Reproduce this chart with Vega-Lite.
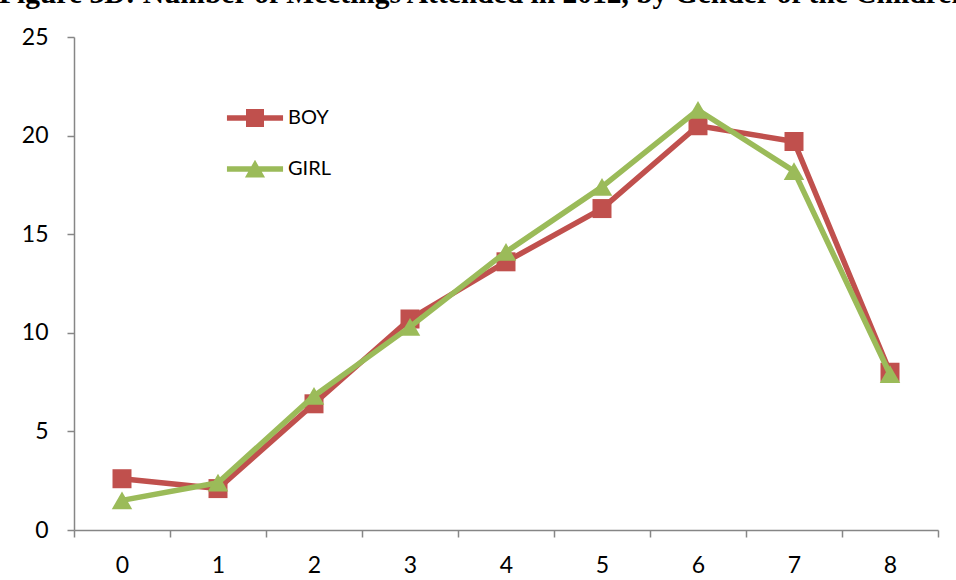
{
  "$schema": "https://vega.github.io/schema/vega-lite/v6.json",
  "width": 864,
  "height": 493,
  "autosize": "none",
  "padding": {"left": 74, "top": 37, "right": 18, "bottom": 50},
  "background": "white",
  "config": {"view": {"stroke": null}, "font": "Lato"},
  "title": {
    "text": "Figure 3D: Number of Meetings Attended in 2012, by Gender of the Children",
    "font": "Liberation Serif",
    "fontSize": 29.5,
    "fontWeight": "bold",
    "color": "black",
    "anchor": "start",
    "frame": "group",
    "offset": 17,
    "dx": -75
  },
  "data": {
    "values": [
      {"meetings": 0, "gender": "BOY", "value": 2.6},
      {"meetings": 1, "gender": "BOY", "value": 2.1},
      {"meetings": 2, "gender": "BOY", "value": 6.4},
      {"meetings": 3, "gender": "BOY", "value": 10.7},
      {"meetings": 4, "gender": "BOY", "value": 13.6},
      {"meetings": 5, "gender": "BOY", "value": 16.3},
      {"meetings": 6, "gender": "BOY", "value": 20.5},
      {"meetings": 7, "gender": "BOY", "value": 19.7},
      {"meetings": 8, "gender": "BOY", "value": 8.0},
      {"meetings": 0, "gender": "GIRL", "value": 1.5},
      {"meetings": 1, "gender": "GIRL", "value": 2.4},
      {"meetings": 2, "gender": "GIRL", "value": 6.8},
      {"meetings": 3, "gender": "GIRL", "value": 10.3},
      {"meetings": 4, "gender": "GIRL", "value": 14.1},
      {"meetings": 5, "gender": "GIRL", "value": 17.4},
      {"meetings": 6, "gender": "GIRL", "value": 21.3},
      {"meetings": 7, "gender": "GIRL", "value": 18.2},
      {"meetings": 8, "gender": "GIRL", "value": 7.9}
    ]
  },
  "encoding": {
    "x": {
      "field": "meetings",
      "type": "ordinal",
      "scale": {"type": "band", "paddingInner": 0, "paddingOuter": 0},
      "axis": {
        "title": null,
        "labelAngle": 0,
        "tickBand": "extent",
        "tickSize": 7,
        "tickColor": "#868686",
        "domainColor": "#868686",
        "domainWidth": 1.5,
        "tickWidth": 1.5,
        "labelPadding": 17,
        "labelFontSize": 23,
        "labelColor": "black",
        "labelFont": "Lato",
        "grid": false
      }
    },
    "y": {
      "field": "value",
      "type": "quantitative",
      "scale": {"domain": [0, 25]},
      "axis": {
        "title": null,
        "values": [0, 5, 10, 15, 20, 25],
        "tickSize": 7,
        "tickColor": "#868686",
        "domainColor": "#868686",
        "domainWidth": 1.5,
        "tickWidth": 1.5,
        "labelPadding": 19,
        "labelFontSize": 23,
        "labelColor": "black",
        "labelFont": "Lato",
        "grid": false
      }
    },
    "color": {
      "field": "gender",
      "type": "nominal",
      "scale": {"domain": ["BOY", "GIRL"], "range": ["#C0504D", "#9BBB59"]},
      "legend": {
        "title": null,
        "orient": "none",
        "legendX": 166,
        "legendY": 66,
        "padding": 0,
        "symbolSize": 900,
        "rowPadding": 26,
        "labelOffset": 18,
        "labelFontSize": 20,
        "labelFont": "Lato",
        "labelColor": "black",
        "encode": {
          "symbols": {
            "update": {
              "shape": {"signal": "datum.value === 'BOY' ? 'M-1.87,-0.18L1.87,-0.18L1.87,0.18L-1.87,0.18Z M-0.6,-0.6L0.6,-0.6L0.6,0.6L-0.6,0.6Z' : 'M-1.87,-0.18L1.87,-0.18L1.87,0.18L-1.87,0.18Z M0,-0.62L0.67,0.56L-0.67,0.56Z'"},
              "fill": {"signal": "datum.value === 'BOY' ? '#C0504D' : '#9BBB59'"},
              "stroke": {"value": "transparent"},
              "strokeWidth": {"value": 0},
              "opacity": {"value": 1},
              "fillOpacity": {"value": 1}
            }
          }
        }
      }
    }
  },
  "layer": [
    {
      "transform": [{"filter": "datum.gender === 'BOY'"}],
      "mark": {"type": "line", "strokeWidth": 5.5, "strokeJoin": "round", "strokeCap": "round"}
    },
    {
      "transform": [{"filter": "datum.gender === 'BOY'"}],
      "mark": {"type": "point", "shape": "square", "filled": true, "size": 361, "opacity": 1}
    },
    {
      "transform": [{"filter": "datum.gender === 'GIRL'"}],
      "mark": {"type": "line", "strokeWidth": 5.5, "strokeJoin": "round", "strokeCap": "round"}
    },
    {
      "transform": [{"filter": "datum.gender === 'GIRL'"}],
      "mark": {"type": "point", "shape": "triangle-up", "filled": true, "size": 420, "opacity": 1}
    }
  ]
}
